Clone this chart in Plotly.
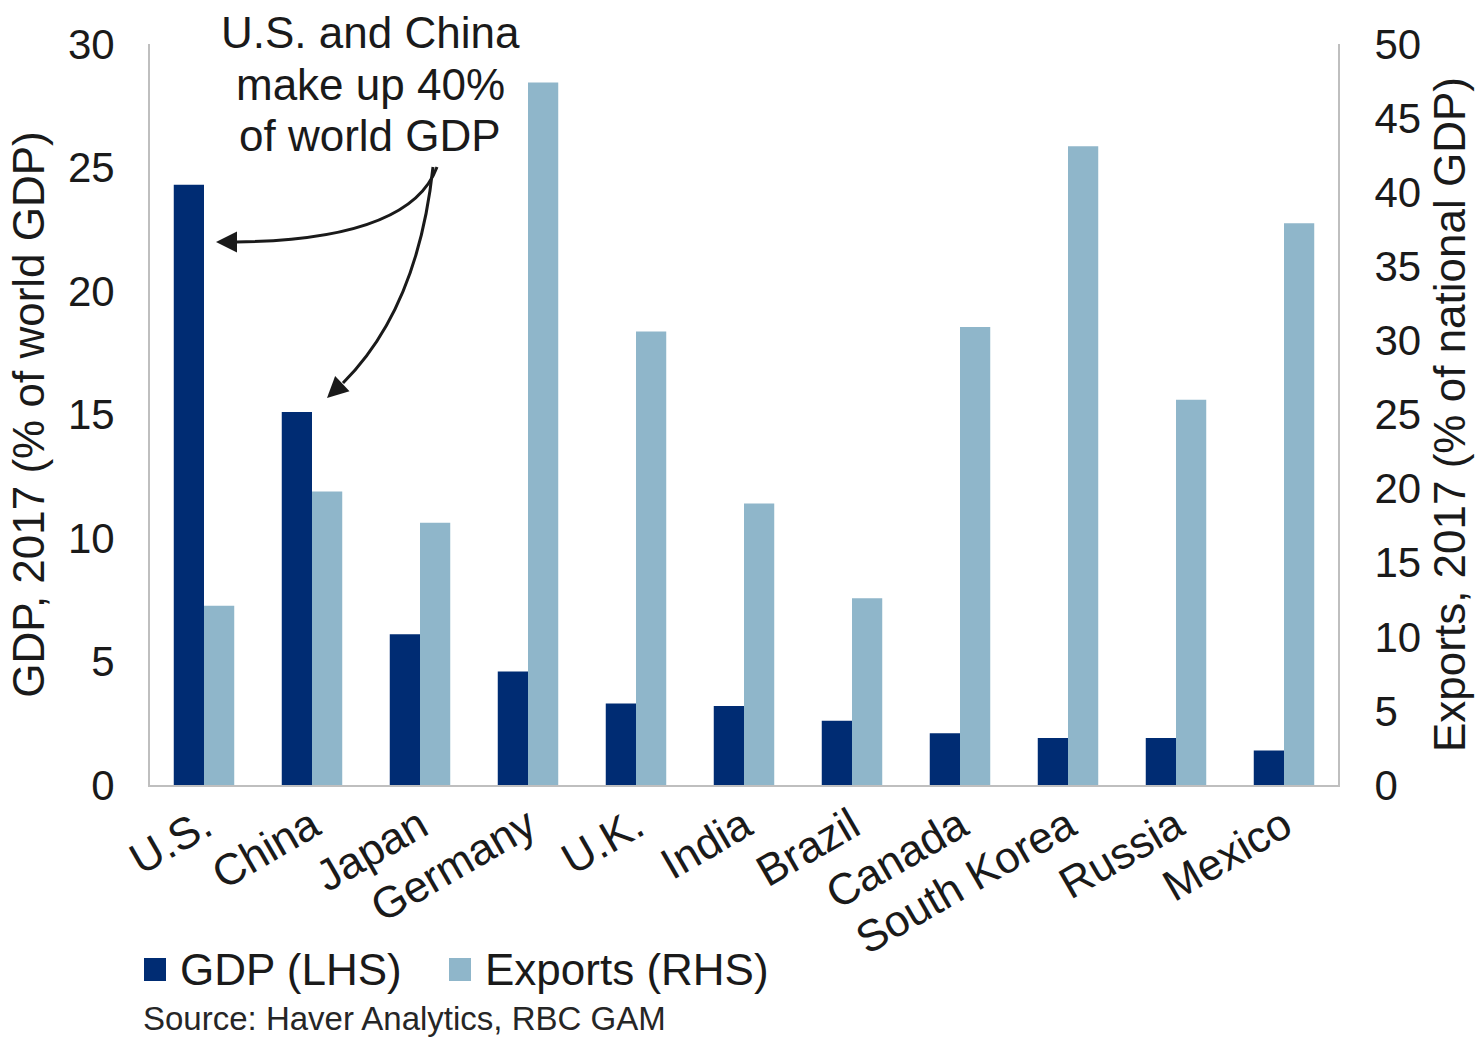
import plotly.graph_objects as go

# Data: share of world GDP (left axis) and exports as share of national GDP (right axis), 2017
countries = ["U.S.", "China", "Japan", "Germany", "U.K.", "India", "Brazil",
             "Canada", "South Korea", "Russia", "Mexico"]
gdp_share = [24.3, 15.1, 6.1, 4.6, 3.3, 3.2, 2.6, 2.1, 1.9, 1.9, 1.4]
exports_share = [12.1, 19.8, 17.7, 47.4, 30.6, 19.0, 12.6, 30.9, 43.1, 26.0, 37.9]

gdp_ticks = [0, 5, 10, 15, 20, 25, 30]
exports_ticks = [0, 5, 10, 15, 20, 25, 30, 35, 40, 45, 50]

DARK = "#002C73"
LIGHT = "#8FB6CA"
AXIS = "#BFBFBF"
INK = "#1A1A1A"
FONT = "Liberation Sans, Arial, sans-serif"

W, H = 1482, 1040
ML, MR, MT, MB = 150, 144, 44, 255


def px(x):
    """Horizontal pixel position -> paper fraction."""
    return (x - ML) / (W - ML - MR)


def py(y):
    """Vertical pixel position (from top) -> paper fraction."""
    return (H - MB - y) / (H - MT - MB)


fig = go.Figure()
fig.add_trace(go.Bar(x=countries, y=gdp_share, name="GDP (LHS)", marker_color=DARK,
                     marker_line_width=0, offsetgroup="gdp", yaxis="y"))
fig.add_trace(go.Bar(x=countries, y=exports_share, name="Exports (RHS)", marker_color=LIGHT,
                     marker_line_width=0, offsetgroup="exp", yaxis="y2"))

axis_common = dict(showgrid=False, zeroline=False, showline=True, linecolor=AXIS,
                   linewidth=2, ticks="", tickfont=dict(size=42, color=INK, family=FONT))

fig.update_layout(
    width=W, height=H,
    margin=dict(l=ML, r=MR, t=MT, b=MB),
    paper_bgcolor="white", plot_bgcolor="white",
    font=dict(family=FONT, color=INK),
    barmode="group", bargap=0.44, bargroupgap=0,
    showlegend=False,
    xaxis=dict(showgrid=False, zeroline=False, showline=True, linecolor=AXIS, linewidth=2,
               ticks="", tickangle=-30, tickfont=dict(size=44, color=INK, family=FONT),
               ticklabelstandoff=-4),
    yaxis=dict(range=[0, 30], tickvals=gdp_ticks, ticklabelstandoff=25,
               title=dict(text="GDP, 2017 (% of world GDP)", font=dict(size=44, color=INK),
                          standoff=9),
               **axis_common),
    yaxis2=dict(range=[0, 50], tickvals=exports_ticks, overlaying="y", side="right",
                ticklabelstandoff=26,
                title=dict(text="Exports, 2017 (% of national GDP)",
                           font=dict(size=44, color=INK), standoff=14),
                **axis_common),
)

# Callout text
callout_lines = ["U.S. and China", "make up 40%", "of world GDP"]
callout_y = [33, 85, 136]
for line, yy in zip(callout_lines, callout_y):
    fig.add_annotation(text=line, x=px(370), y=py(yy), xref="paper", yref="paper",
                       xanchor="center", yanchor="middle", showarrow=False,
                       font=dict(size=44, color=INK))

# Curved callout arrows
curve_style = dict(type="path", xref="paper", yref="paper",
                   line=dict(color=INK, width=3))
fig.add_shape(path=f"M {px(437)},{py(167)} Q {px(410)},{py(240)} {px(236)},{py(242)}",
              **curve_style)
fig.add_shape(path=f"M {px(433)},{py(167)} Q {px(418)},{py(308)} {px(343)},{py(383)}",
              **curve_style)
head_style = dict(xref="paper", yref="paper", text="", showarrow=True, arrowhead=2,
                  arrowsize=1.4, arrowwidth=3, arrowcolor=INK, standoff=0)
fig.add_annotation(x=px(216), y=py(242), ax=22, ay=0, **head_style)
fig.add_annotation(x=px(327), y=py(398), ax=16, ay=-15, **head_style)

# Legend
legend_items = [("GDP (LHS)", DARK, 144), ("Exports (RHS)", LIGHT, 449)]
for label, color, x0 in legend_items:
    fig.add_shape(type="rect", xref="paper", yref="paper",
                  x0=px(x0), x1=px(x0 + 22), y0=py(981), y1=py(958),
                  fillcolor=color, line_width=0)
    fig.add_annotation(text=label, x=px(x0 + 34), y=py(969), xref="paper", yref="paper",
                       xanchor="left", yanchor="middle", showarrow=False,
                       font=dict(size=44, color=INK))

fig.add_annotation(text="Source: Haver Analytics, RBC GAM", x=px(141), y=py(1018),
                   xref="paper", yref="paper", xanchor="left", yanchor="middle",
                   showarrow=False, font=dict(size=33, color="#262626"))

fig.write_html("out.html")
